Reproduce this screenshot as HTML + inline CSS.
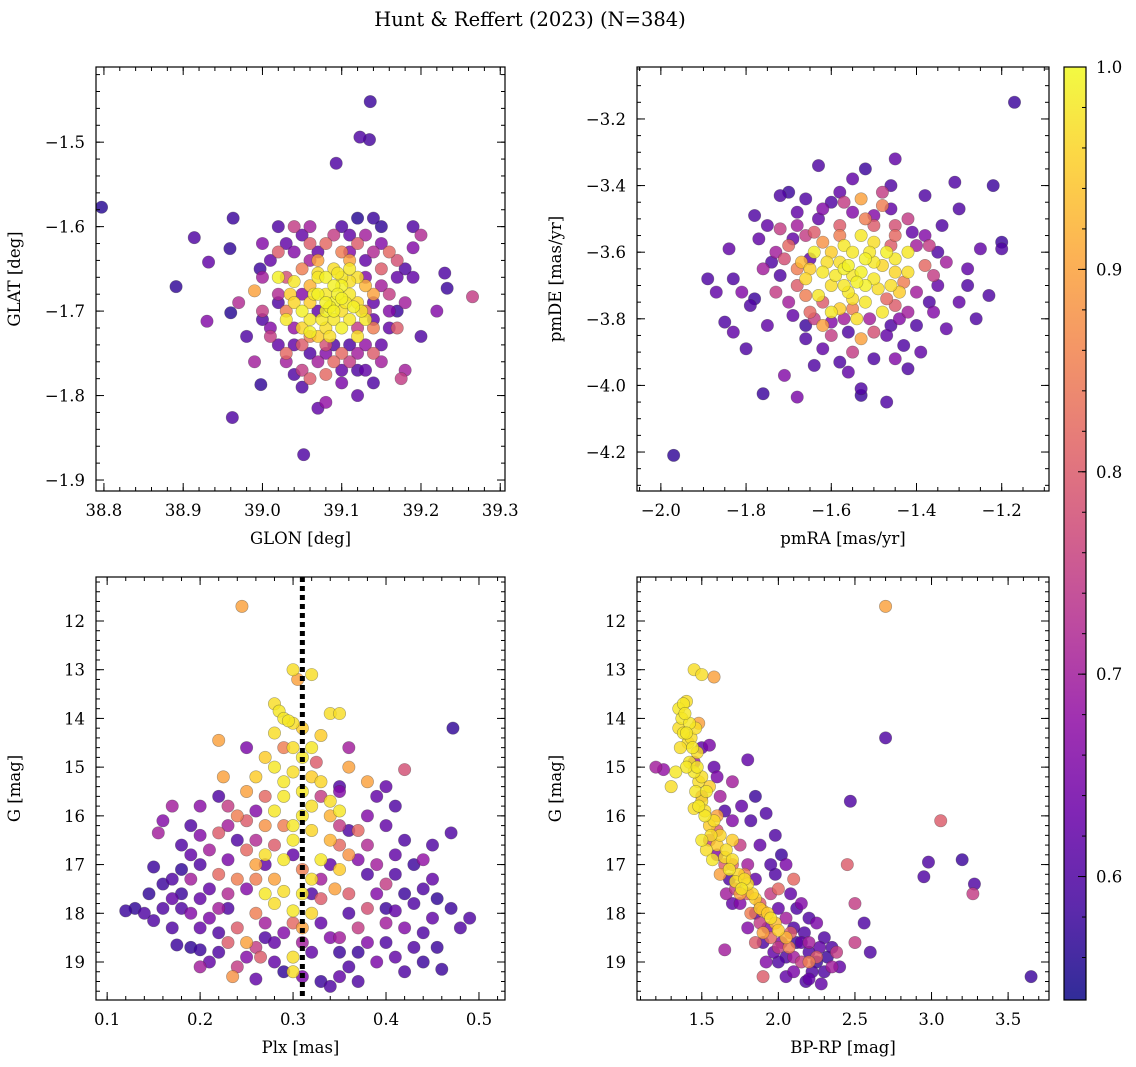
<!DOCTYPE html>
<html><head><meta charset="utf-8">
<style>
html,body{margin:0;padding:0;background:#fff;}
svg{display:block;font-family:"DejaVu Serif","Liberation Serif",serif;}
</style></head>
<body>
<svg id="chart" width="1136" height="1067" viewBox="0 0 1136 1067" xmlns="http://www.w3.org/2000/svg">
<text x="530" y="26" text-anchor="middle" font-size="19.5">Hunt &amp; Reffert (2023) (N=384)</text>
</svg>
<script>
// ---- data ----
const posData = [[38.797,-1.577,.56],[38.891,-1.671,.57],[38.914,-1.613,.6],[38.93,-1.712,.66],[38.932,-1.642,.62],[38.959,-1.626,.57],[38.963,-1.59,.58],[38.96,-1.702,.56],[38.962,-1.826,.6],[38.998,-1.787,.57],[38.997,-1.65,.58],[39.0,-1.71,.6],[39.052,-1.87,.6],[39.136,-1.452,.58],[39.123,-1.494,.6],[39.135,-1.497,.59],[39.093,-1.525,.6],[39.265,-1.683,.75],[39.233,-1.673,.58],[39.23,-1.655,.6],[39.2,-1.61,.72],[39.19,-1.625,.66],[39.175,-1.78,.75],[39.18,-1.77,.7],[39.07,-1.815,.62],[39.08,-1.808,.68],[39.14,-1.785,.6],[39.16,-1.72,.62],[39.17,-1.70,.58],[39.18,-1.65,.6],[39.15,-1.60,.57],[39.14,-1.59,.58],[39.12,-1.59,.56],[39.10,-1.60,.6],[39.04,-1.60,.75],[39.03,-1.62,.62],[39.02,-1.69,.6],[39.02,-1.74,.62],[39.03,-1.76,.7],[39.04,-1.775,.6],[39.06,-1.78,.8],[39.08,-1.775,.82],[39.10,-1.785,.65],[39.12,-1.77,.6],[39.13,-1.74,.68],[39.14,-1.75,.8],[39.15,-1.74,.62],[39.16,-1.68,.75],[39.17,-1.66,.62],[39.16,-1.63,.82],[39.14,-1.63,.72],[39.12,-1.62,.8],[39.11,-1.63,.66],[39.08,-1.62,.82],[39.07,-1.63,.62],[39.06,-1.64,.7],[39.05,-1.65,.85],[39.03,-1.66,.78],[39.02,-1.68,.72],[39.01,-1.73,.75],[39.04,-1.72,.68],[39.05,-1.74,.8],[39.06,-1.75,.6],[39.08,-1.74,.78],[39.10,-1.75,.82],[39.11,-1.74,.6],[39.12,-1.72,.75],[39.13,-1.70,.8],[39.14,-1.69,.62],[39.15,-1.67,.7],[38.99,-1.676,.9],[39.0,-1.70,.75],[39.09,-1.76,.82],[39.07,-1.70,.62],[39.08,-1.68,.98],[39.09,-1.69,.99],[39.10,-1.70,.97],[39.07,-1.66,.98],[39.06,-1.69,.95],[39.10,-1.67,.99],[39.11,-1.68,.98],[39.12,-1.69,.96],[39.09,-1.71,.98],[39.08,-1.72,.97],[39.05,-1.70,.99],[39.06,-1.71,.98],[39.07,-1.68,.99],[39.11,-1.71,.98],[39.12,-1.66,.97],[39.13,-1.67,.92],[39.08,-1.66,.99],[39.09,-1.67,.99],[39.10,-1.66,.98],[39.04,-1.69,.96],[39.04,-1.665,.98],[39.02,-1.66,.99],[39.13,-1.71,.98],[39.12,-1.73,.97],[39.08,-1.70,.99],[39.10,-1.72,.99],[39.07,-1.73,.95],[39.06,-1.67,.92],[39.11,-1.65,.98],[39.09,-1.65,.97],[39.14,-1.68,.9],[39.03,-1.71,.98],[39.06,-1.725,.99],[39.115,-1.695,.99],[39.085,-1.695,.99]];
const posExtra = [[39.05,-1.61,.62],[39.06,-1.60,.7],[39.09,-1.61,.75],[39.11,-1.61,.62],[39.13,-1.61,.7],[39.15,-1.62,.66],[39.17,-1.64,.78],[39.18,-1.69,.7],[39.17,-1.72,.8],[39.15,-1.76,.7],[39.13,-1.77,.62],[39.11,-1.76,.75],[39.09,-1.74,.6],[39.07,-1.76,.7],[39.05,-1.77,.75],[39.03,-1.75,.82],[39.01,-1.72,.66],[39.0,-1.66,.7],[39.01,-1.64,.62],[39.02,-1.63,.8],[39.04,-1.63,.66],[39.06,-1.62,.8],[39.1,-1.63,.85],[39.13,-1.64,.62],[39.15,-1.65,.8],[39.16,-1.70,.66],[39.14,-1.72,.85],[39.12,-1.75,.7],[39.1,-1.77,.62],[39.06,-1.73,.85],[39.04,-1.74,.62],[39.03,-1.70,.85],[39.05,-1.68,.66],[39.07,-1.64,.9],[39.11,-1.64,.9],[39.13,-1.66,.66],[39.14,-1.71,.62],[39.08,-1.75,.66],[38.98,-1.73,.6],[38.97,-1.69,.72],[39.19,-1.66,.62],[39.2,-1.73,.6],[39.22,-1.70,.66],[39.19,-1.60,.6],[39.02,-1.60,.6],[39.0,-1.62,.66],[39.12,-1.80,.62],[39.05,-1.79,.6],[38.99,-1.76,.7],[39.08,-1.69,.99],[39.095,-1.68,.99],[39.105,-1.69,.98],[39.075,-1.71,.98],[39.09,-1.70,.99],[39.1,-1.685,.99],[39.065,-1.68,.98],[39.11,-1.665,.97],[39.125,-1.70,.98],[39.05,-1.72,.96],[39.085,-1.73,.97],[39.095,-1.655,.98],[39.07,-1.655,.97],[39.035,-1.68,.95]];
const pmData = [[-1.97,-4.21,.57],[-1.17,-3.15,.58],[-1.76,-4.025,.58],[-1.68,-4.035,.65],[-1.47,-4.05,.6],[-1.53,-4.03,.58],[-1.53,-4.01,.6],[-1.63,-3.34,.6],[-1.55,-3.38,.62],[-1.45,-3.32,.62],[-1.52,-3.35,.58],[-1.48,-3.42,.75],[-1.38,-3.43,.6],[-1.31,-3.39,.6],[-1.22,-3.40,.58],[-1.23,-3.73,.6],[-1.28,-3.65,.62],[-1.20,-3.57,.58],[-1.20,-3.59,.6],[-1.30,-3.47,.6],[-1.25,-3.59,.62],[-1.85,-3.81,.6],[-1.83,-3.84,.62],[-1.80,-3.89,.6],[-1.84,-3.59,.62],[-1.83,-3.68,.6],[-1.81,-3.72,.66],[-1.79,-3.76,.6],[-1.72,-3.43,.6],[-1.70,-3.42,.58],[-1.68,-3.48,.62],[-1.71,-3.97,.66],[-1.64,-3.94,.6],[-1.62,-3.89,.62],[-1.58,-3.93,.6],[-1.55,-3.90,.75],[-1.50,-3.92,.6],[-1.42,-3.95,.6],[-1.39,-3.90,.62],[-1.43,-3.88,.6],[-1.33,-3.83,.62],[-1.36,-3.78,.66],[-1.78,-3.74,.58],[-1.76,-3.65,.7],[-1.73,-3.60,.7],[-1.77,-3.56,.62],[-1.78,-3.49,.6],[-1.66,-3.82,.58],[-1.60,-3.85,.75],[-1.57,-3.80,.7],[-1.47,-3.85,.62],[-1.44,-3.80,.66],[-1.40,-3.82,.6],[-1.35,-3.70,.62],[-1.33,-3.63,.7],[-1.37,-3.58,.75],[-1.42,-3.50,.75],[-1.46,-3.47,.62],[-1.55,-3.48,.66],[-1.63,-3.50,.62],[-1.66,-3.55,.75],[-1.70,-3.58,.82],[-1.72,-3.67,.6],[-1.70,-3.75,.7],[-1.65,-3.78,.82],[-1.62,-3.82,.9],[-1.53,-3.86,.9],[-1.50,-3.84,.78],[-1.45,-3.76,.8],[-1.40,-3.72,.7],[-1.38,-3.64,.82],[-1.40,-3.58,.7],[-1.45,-3.55,.82],[-1.50,-3.52,.8],[-1.58,-3.52,.8],[-1.53,-3.44,.9],[-1.48,-3.46,.85],[-1.65,-3.62,.62],[-1.68,-3.70,.8],[-1.55,-3.67,.98],[-1.58,-3.63,.97],[-1.52,-3.62,.99],[-1.50,-3.68,.98],[-1.56,-3.72,.98],[-1.60,-3.70,.97],[-1.62,-3.66,.98],[-1.48,-3.64,.96],[-1.45,-3.62,.98],[-1.46,-3.70,.97],[-1.52,-3.75,.98],[-1.58,-3.77,.95],[-1.63,-3.73,.98],[-1.64,-3.60,.99],[-1.57,-3.58,.98],[-1.50,-3.57,.97],[-1.55,-3.60,.98],[-1.42,-3.66,.97],[-1.44,-3.72,.95],[-1.48,-3.78,.98],[-1.54,-3.80,.97],[-1.60,-3.78,.98],[-1.66,-3.68,.96],[-1.67,-3.63,.93],[-1.53,-3.55,.98],[-1.42,-3.60,.98],[-1.47,-3.60,.99],[-1.57,-3.65,.99],[-1.52,-3.70,.99],[-1.60,-3.60,.95]];
const pmExtra = [[-1.75,-3.52,.62],[-1.72,-3.53,.75],[-1.68,-3.52,.7],[-1.62,-3.47,.66],[-1.60,-3.45,.6],[-1.57,-3.45,.75],[-1.50,-3.49,.66],[-1.45,-3.52,.78],[-1.41,-3.54,.62],[-1.38,-3.55,.66],[-1.35,-3.60,.6],[-1.36,-3.67,.75],[-1.37,-3.75,.6],[-1.42,-3.78,.7],[-1.46,-3.82,.6],[-1.51,-3.80,.7],[-1.56,-3.84,.6],[-1.60,-3.81,.66],[-1.64,-3.80,.75],[-1.69,-3.79,.62],[-1.73,-3.72,.75],[-1.74,-3.63,.6],[-1.71,-3.62,.78],[-1.69,-3.56,.62],[-1.64,-3.54,.8],[-1.58,-3.55,.85],[-1.52,-3.50,.85],[-1.46,-3.58,.8],[-1.43,-3.69,.85],[-1.47,-3.74,.82],[-1.55,-3.77,.85],[-1.62,-3.75,.8],[-1.66,-3.73,.85],[-1.68,-3.65,.85],[-1.62,-3.57,.88],[-1.89,-3.68,.6],[-1.87,-3.72,.62],[-1.34,-3.52,.6],[-1.28,-3.70,.6],[-1.26,-3.80,.6],[-1.30,-3.75,.62],[-1.46,-3.40,.6],[-1.58,-3.42,.62],[-1.66,-3.44,.6],[-1.56,-3.96,.62],[-1.45,-3.92,.66],[-1.75,-3.82,.62],[-1.66,-3.86,.6],[-1.56,-3.64,.99],[-1.53,-3.66,.99],[-1.50,-3.63,.98],[-1.59,-3.67,.98],[-1.54,-3.69,.99],[-1.49,-3.71,.97],[-1.57,-3.70,.98],[-1.61,-3.63,.97],[-1.51,-3.60,.98],[-1.55,-3.74,.97],[-1.45,-3.66,.96],[-1.65,-3.65,.95]];
const plxData = [[0.245,11.7,.9],[0.3,13.0,.97],[0.32,13.1,.97],[0.305,13.2,.9],[0.28,13.7,.97],[0.285,13.85,.98],[0.29,14.0,.98],[0.295,14.05,.98],[0.3,14.1,.97],[0.31,14.2,.95],[0.22,14.45,.9],[0.34,13.9,.97],[0.35,13.9,.97],[0.472,14.2,.57],[0.42,15.05,.78],[0.3,14.6,.97],[0.32,14.6,.98],[0.33,14.35,.95],[0.27,14.8,.95],[0.26,15.2,.95],[0.225,15.2,.9],[0.36,15.0,.9],[0.38,15.3,.9],[0.34,15.7,.97],[0.35,15.9,.98],[0.31,15.5,.98],[0.29,15.6,.98],[0.28,15.9,.98],[0.25,15.5,.9],[0.2,15.8,.67],[0.17,15.8,.7],[0.155,16.35,.7],[0.19,16.2,.6],[0.23,15.8,.75],[0.24,16.0,.85],[0.22,16.35,.8],[0.21,16.7,.7],[0.2,17.0,.6],[0.19,17.3,.7],[0.18,17.1,.57],[0.17,17.3,.6],[0.15,17.05,.58],[0.16,17.4,.58],[0.145,17.6,.57],[0.13,17.9,.57],[0.15,18.15,.6],[0.17,18.3,.6],[0.175,18.65,.58],[0.19,18.7,.57],[0.2,18.75,.58],[0.2,19.1,.7],[0.22,18.8,.6],[0.235,19.3,.88],[0.26,19.35,.62],[0.25,18.6,.9],[0.265,18.9,.8],[0.27,18.2,.7],[0.28,18.6,.62],[0.29,19.2,.57],[0.3,18.9,.97],[0.31,19.3,.65],[0.33,19.4,.58],[0.34,19.5,.6],[0.35,19.3,.62],[0.36,19.1,.6],[0.37,18.8,.58],[0.39,19.0,.65],[0.4,18.6,.6],[0.41,18.9,.62],[0.43,18.7,.6],[0.455,18.7,.58],[0.46,19.15,.58],[0.48,18.3,.6],[0.49,18.1,.6],[0.47,17.9,.58],[0.455,17.7,.57],[0.44,17.5,.6],[0.45,17.3,.62],[0.42,17.6,.58],[0.42,16.5,.6],[0.44,16.9,.68],[0.47,16.35,.6],[0.41,17.95,.62],[0.4,17.4,.75],[0.39,17.0,.7],[0.38,16.6,.72],[0.37,16.3,.82],[0.36,16.8,.88],[0.35,17.1,.95],[0.345,17.5,.9],[0.33,17.7,.8],[0.32,17.3,.97],[0.33,16.9,.98],[0.32,16.3,.96],[0.3,16.5,.98],[0.29,16.9,.98],[0.28,17.3,.9],[0.27,17.6,.98],[0.26,17.0,.9],[0.25,16.7,.82],[0.24,17.3,.85],[0.23,17.6,.72],[0.22,17.9,.7],[0.21,18.1,.65],[0.24,18.3,.8],[0.26,18.0,.85],[0.29,17.55,.97],[0.3,17.95,.98],[0.31,18.3,.9],[0.33,18.2,.62],[0.35,18.5,.7],[0.37,18.3,.75],[0.38,17.9,.78],[0.36,17.6,.8],[0.4,16.2,.62],[0.35,16.2,.75],[0.27,16.2,.88],[0.26,16.5,.72],[0.3,15.1,.97],[0.32,15.2,.95],[0.31,16.0,.98],[0.34,16.5,.92],[0.28,15.0,.98],[0.23,16.9,.65],[0.2,17.7,.62],[0.18,17.9,.6],[0.325,14.9,.8],[0.36,14.6,.7],[0.25,14.6,.65],[0.39,15.6,.62],[0.41,15.8,.6]];
const plxExtra = [[0.18,16.6,.6],[0.2,16.4,.66],[0.23,16.2,.7],[0.25,16.1,.8],[0.27,15.6,.82],[0.26,15.9,.66],[0.24,16.5,.6],[0.22,17.2,.82],[0.21,17.5,.62],[0.23,17.9,.6],[0.25,17.5,.66],[0.26,17.3,.85],[0.27,17.0,.62],[0.28,16.6,.8],[0.29,16.2,.85],[0.3,16.8,.62],[0.31,17.1,.85],[0.32,17.6,.6],[0.33,17.3,.7],[0.34,17.0,.62],[0.35,16.6,.82],[0.36,16.3,.6],[0.37,16.9,.66],[0.38,17.2,.6],[0.39,17.6,.66],[0.4,17.9,.58],[0.41,17.2,.6],[0.43,17.0,.58],[0.43,17.8,.6],[0.45,18.1,.62],[0.44,18.4,.6],[0.42,18.3,.66],[0.4,18.2,.7],[0.38,18.6,.66],[0.36,18.0,.6],[0.35,18.8,.58],[0.34,18.5,.66],[0.32,18.8,.62],[0.31,18.6,.7],[0.3,18.2,.82],[0.29,18.4,.66],[0.27,18.5,.6],[0.26,18.7,.75],[0.25,18.9,.66],[0.23,18.6,.8],[0.22,18.4,.6],[0.2,18.3,.62],[0.19,18.0,.66],[0.18,17.6,.58],[0.17,17.7,.62],[0.16,17.9,.6],[0.14,18.0,.6],[0.12,17.95,.58],[0.21,19.0,.62],[0.24,19.1,.75],[0.28,19.0,.62],[0.37,19.4,.6],[0.42,19.2,.6],[0.44,19.0,.58],[0.33,15.6,.75],[0.35,15.5,.66],[0.29,14.6,.85],[0.28,14.3,.97],[0.33,15.3,.96],[0.27,16.8,.97],[0.31,14.8,.98],[0.29,15.3,.98],[0.32,15.8,.97],[0.3,16.2,.98],[0.34,16.0,.92],[0.28,17.8,.97],[0.31,17.6,.98],[0.32,18.0,.96],[0.3,19.2,.97],[0.35,15.4,.6],[0.22,15.6,.6],[0.19,16.8,.62],[0.16,16.1,.66],[0.41,16.8,.62],[0.45,16.6,.6],[0.38,16.0,.66],[0.4,15.4,.62]];
const cmdData = [[1.45,13.0,.97],[1.5,13.1,.97],[1.58,13.15,.9],[1.35,13.8,.98],[1.38,13.7,.98],[1.4,13.65,.97],[1.37,14.0,.98],[1.42,14.1,.98],[1.38,14.3,.98],[1.41,14.5,.97],[1.44,14.6,.98],[1.47,14.7,.97],[1.42,14.9,.98],[1.45,15.1,.98],[1.48,15.3,.97],[1.46,15.5,.98],[1.5,15.7,.97],[1.45,15.85,.97],[1.52,16.0,.98],[1.55,16.2,.95],[1.5,16.5,.98],[1.53,16.7,.97],[1.57,16.9,.98],[1.6,16.6,.95],[1.65,16.85,.97],[1.68,17.1,.98],[1.72,17.35,.97],[1.76,17.5,.98],[1.8,17.4,.97],[1.85,17.7,.95],[1.9,17.95,.9],[1.95,18.1,.97],[2.0,18.35,.95],[2.05,18.5,.92],[1.3,15.4,.97],[1.48,14.1,.9],[1.55,15.4,.95],[1.6,16.0,.9],[1.7,16.5,.95],[1.62,17.2,.9],[1.35,14.2,.97],[1.4,15.0,.98],[1.52,15.9,.97],[1.75,17.6,.9],[1.82,18.0,.85],[1.9,18.4,.9],[2.7,11.7,.9],[1.2,15.0,.7],[1.25,15.05,.68],[1.5,14.6,.62],[1.55,14.55,.65],[1.6,15.2,.65],[1.7,15.3,.7],[1.65,15.9,.6],[1.8,14.85,.62],[1.85,15.6,.58],[1.92,15.95,.6],[1.98,16.4,.6],[2.02,16.8,.58],[2.05,17.0,.65],[2.1,17.3,.82],[2.47,15.7,.6],[2.45,17.0,.8],[2.7,14.4,.6],[2.98,16.95,.6],[2.95,17.25,.6],[3.06,16.1,.8],[3.2,16.9,.58],[3.28,17.4,.6],[3.27,17.6,.75],[3.65,19.3,.58],[2.5,17.8,.75],[2.56,18.2,.6],[2.5,18.6,.75],[2.6,18.8,.6],[1.65,18.75,.7],[1.9,19.3,.8],[1.75,16.6,.75],[1.8,17.0,.7],[1.85,17.3,.62],[1.95,17.6,.75],[2.0,17.9,.62],[2.05,18.1,.7],[2.1,18.3,.6],[2.15,18.6,.62],[2.2,18.8,.6],[2.25,19.0,.58],[2.3,19.2,.6],[2.2,19.35,.62],[2.1,19.2,.65],[2.05,18.9,.6],[2.0,18.7,.75],[1.95,18.5,.82],[2.15,19.0,.75],[2.25,18.9,.8],[2.35,19.1,.7],[2.3,18.5,.6],[2.25,18.2,.65],[2.12,17.9,.6],[1.98,17.2,.6],[1.6,16.3,.8],[1.7,17.0,.82],[1.78,17.2,.85],[1.88,17.8,.8],[2.07,18.7,.85],[2.18,19.4,.6],[2.28,19.45,.62]];
const cmdExtra = [[1.55,16.5,.75],[1.6,16.8,.66],[1.65,17.0,.8],[1.68,17.3,.6],[1.72,17.5,.75],[1.75,17.8,.66],[1.8,17.6,.8],[1.85,18.0,.62],[1.88,18.2,.75],[1.9,18.6,.6],[1.93,18.3,.66],[1.97,18.8,.62],[2.0,19.0,.6],[2.02,18.6,.66],[2.08,18.4,.8],[2.1,18.9,.7],[2.12,18.6,.58],[2.17,18.4,.6],[2.2,18.6,.7],[2.22,19.2,.6],[2.27,18.7,.62],[2.32,18.9,.58],[2.35,18.7,.6],[2.4,19.1,.62],[2.38,18.8,.75],[2.15,17.8,.66],[2.2,18.1,.6],[2.08,17.6,.62],[1.95,17.0,.6],[1.88,16.6,.62],[1.82,16.1,.6],[1.76,15.8,.62],[1.7,16.1,.66],[1.62,15.6,.7],[1.58,15.0,.62],[1.45,14.9,.7],[1.5,15.6,.8],[1.66,17.6,.7],[1.7,17.8,.62],[1.8,18.3,.66],[1.85,18.6,.8],[1.92,19.0,.66],[2.05,19.3,.62],[2.0,17.5,.82],[2.2,19.0,.85],[1.4,14.3,.98],[1.43,14.4,.97],[1.46,14.2,.97],[1.39,13.9,.98],[1.47,15.0,.98],[1.5,15.2,.97],[1.53,15.5,.98],[1.48,15.8,.98],[1.56,16.4,.97],[1.62,16.4,.96],[1.66,16.7,.97],[1.7,16.9,.97],[1.74,17.2,.96],[1.78,17.3,.97],[1.83,17.6,.96],[1.88,17.9,.95],[1.93,18.0,.95],[1.98,18.2,.93],[1.58,16.1,.97],[1.36,14.6,.97],[1.33,15.1,.98]];
const glonTicks = [38.8,38.9,39.0,39.1,39.2,39.3];
const glatTicks = [-1.9,-1.8,-1.7,-1.6,-1.5];
const pmraTicks = [-2.0,-1.8,-1.6,-1.4,-1.2];
const pmdeTicks = [-4.2,-4.0,-3.8,-3.6,-3.4,-3.2];
const plxTicks = [0.1,0.2,0.3,0.4,0.5];
const gTicks = [12,13,14,15,16,17,18,19];
const bprpTicks = [1.5,2.0,2.5,3.0,3.5];
const cbTicks = [0.6,0.7,0.8,0.9,1.0];
const plxMedian = 0.31;

const NS='http://www.w3.org/2000/svg';
const svg=document.getElementById('chart');
function mk(tag,attrs,parent){const e=document.createElementNS(NS,tag);for(const k in attrs)e.setAttribute(k,attrs[k]);(parent||svg).appendChild(e);return e;}
const stops=['#0d0887','#41049d','#6a00a8','#8f0da4','#b12a90','#cc4778','#e16462','#f2844b','#fca636','#fcce25','#f0f921'];
function hex(h){return [1,3,5].map(i=>parseInt(h.substr(i,2),16));}
const CMIN=0.539,CMAX=1.0;
function plasma(t){t=Math.max(0,Math.min(1,t));const f=t*10,i=Math.min(9,Math.floor(f)),r=f-i;const a=hex(stops[i]),b=hex(stops[i+1]);return 'rgb('+a.map((v,k)=>Math.round(v+(b[k]-v)*r)).join(',')+')';}
function cval(c){return plasma((c-CMIN)/(CMAX-CMIN));}
function fmt(v,d){let s=v.toFixed(d);return s.replace('-','\u2212');}

function panel(o){
  const g=mk('g',{});
  
  
  const X=v=>o.x0+(v-o.xl[0])/(o.xl[1]-o.xl[0])*(o.x1-o.x0);
  const Y=v=>o.y0+(v-o.yl[0])/(o.yl[1]-o.yl[0])*(o.y1-o.y0);
  const pts=o.data.slice().sort((a,b)=>a[2]-b[2]);
  const clip='clip-'+o.name;
  const cp=mk('clipPath',{id:clip},g);mk('rect',{x:o.x0,y:o.y0,width:o.x1-o.x0,height:o.y1-o.y0},cp);
  const pg=mk('g',{'clip-path':'url(#'+clip+')'},g);
  
  
  pts.forEach(p=>{
    const c=mk('circle',{cx:X(p[0]),cy:Y(p[1]),r:6.2,fill:cval(p[2]),'fill-opacity':0.82,stroke:'rgba(60,60,60,0.45)','stroke-width':0.6},pg);
    
    
  });
  if(o.vline!==undefined){
    const l=mk('line',{x1:X(o.vline),x2:X(o.vline),y1:o.y0,y2:o.y1,stroke:'#000','stroke-width':5,'stroke-dasharray':'5,4'},g);
    
    
  }
  const fr=mk('rect',{x:o.x0,y:o.y0,width:o.x1-o.x0,height:o.y1-o.y0,fill:'none',stroke:'#000','stroke-width':1.2},g);
  
  
  const tk=mk('g',{stroke:'#000','stroke-width':1},g);
  for(let v=Math.ceil(o.xl[0]/o.xmin-1e-6)*o.xmin; v<=o.xl[1]; v+=o.xmin){const x=X(v);mk('line',{x1:x,x2:x,y1:o.y1,y2:o.y1-4},tk);mk('line',{x1:x,x2:x,y1:o.y0,y2:o.y0+4},tk);}
  const ylo=Math.min(o.yl[0],o.yl[1]),yhi=Math.max(o.yl[0],o.yl[1]);
  for(let v=Math.ceil(ylo/o.ymin-1e-6)*o.ymin; v<=yhi; v+=o.ymin){const y=Y(v);mk('line',{x1:o.x0,x2:o.x0+4,y1:y,y2:y},tk);mk('line',{x1:o.x1,x2:o.x1-4,y1:y,y2:y},tk);}
  o.xt.forEach(v=>{const x=X(v);mk('line',{x1:x,x2:x,y1:o.y1,y2:o.y1-8},tk);mk('line',{x1:x,x2:x,y1:o.y0,y2:o.y0+8},tk);
    const t=mk('text',{x:x,y:o.y1+25,'text-anchor':'middle','font-size':16.5},g);t.textContent=fmt(v,o.xd);
    
    });
  o.yt.forEach(v=>{const y=Y(v);mk('line',{x1:o.x0,x2:o.x0+8,y1:y,y2:y},tk);mk('line',{x1:o.x1,x2:o.x1-8,y1:y,y2:y},tk);
    const t=mk('text',{x:o.x0-11,y:y+6,'text-anchor':'end','font-size':16.5},g);t.textContent=fmt(v,o.yd);
    
    });
  const xl=mk('text',{x:(o.x0+o.x1)/2,y:o.y1+53,'text-anchor':'middle','font-size':16.5},g);xl.textContent=o.xlabel;
  
  
  const yx=o.x0-76, yc=(o.y0+o.y1)/2;
  const yl=mk('text',{x:yx,y:yc,'text-anchor':'middle','font-size':16.5,transform:'rotate(-90 '+yx+' '+yc+')'},g);yl.textContent=o.ylabel;
  
  
}

panel({name:'glon-glat-panel',x0:96,x1:505,y0:67,y1:491,xl:[38.790,39.306],yl:[-1.411,-1.913],data:posData.concat(posExtra),xt:glonTicks,yt:glatTicks,xmin:0.02,ymin:0.02,xd:1,yd:1,xlabel:'GLON [deg]',ylabel:'GLAT [deg]'});
panel({name:'pm-panel',x0:637,x1:1049,y0:67,y1:491,xl:[-2.056,-1.089],yl:[-3.044,-4.317],data:pmData.concat(pmExtra),xt:pmraTicks,yt:pmdeTicks,xmin:0.05,ymin:0.05,xd:1,yd:1,xlabel:'pmRA [mas/yr]',ylabel:'pmDE [mas/yr]'});
panel({name:'plx-g-panel',x0:96,x1:505,y0:577,y1:1000,xl:[0.088,0.528],yl:[11.097,19.78],data:plxData.concat(plxExtra),xt:plxTicks,yt:gTicks,xmin:0.02,ymin:0.2,xd:1,yd:0,xlabel:'Plx [mas]',ylabel:'G [mag]',vline:plxMedian});
panel({name:'cmd-panel',x0:637,x1:1049,y0:577,y1:1000,xl:[1.077,3.767],yl:[11.097,19.78],data:cmdData.concat(cmdExtra),xt:bprpTicks,yt:gTicks,xmin:0.1,ymin:0.2,xd:1,yd:0,xlabel:'BP-RP [mag]',ylabel:'G [mag]'});

const cb=mk('g',{});


const defs=mk('defs',{},cb);
const gr=mk('linearGradient',{id:'cbgrad',x1:0,y1:1,x2:0,y2:0},defs);
stops.forEach((s,i)=>mk('stop',{offset:i/10,'stop-color':s},gr));
const CB={x0:1064,x1:1086,y0:67,y1:1000};
mk('rect',{x:CB.x0,y:CB.y0,width:CB.x1-CB.x0,height:CB.y1-CB.y0,fill:'url(#cbgrad)','fill-opacity':0.85},cb);
mk('rect',{x:CB.x0,y:CB.y0,width:CB.x1-CB.x0,height:CB.y1-CB.y0,fill:'none',stroke:'#000','stroke-width':1.2},cb);
const CY=v=>CB.y1-(v-CMIN)/(CMAX-CMIN)*(CB.y1-CB.y0);
for(let v=0.56;v<=1.0001;v+=0.02){mk('line',{x1:CB.x1,x2:CB.x1-4,y1:CY(v),y2:CY(v),stroke:'#000'},cb);}
cbTicks.forEach(v=>{const y=CY(v);mk('line',{x1:CB.x1,x2:CB.x1-8,y1:y,y2:y,stroke:'#000'},cb);
  const t=mk('text',{x:CB.x1+10,y:y+6,'font-size':16.5},cb);t.textContent=v.toFixed(1);
  
  });
</script>
</body></html>
